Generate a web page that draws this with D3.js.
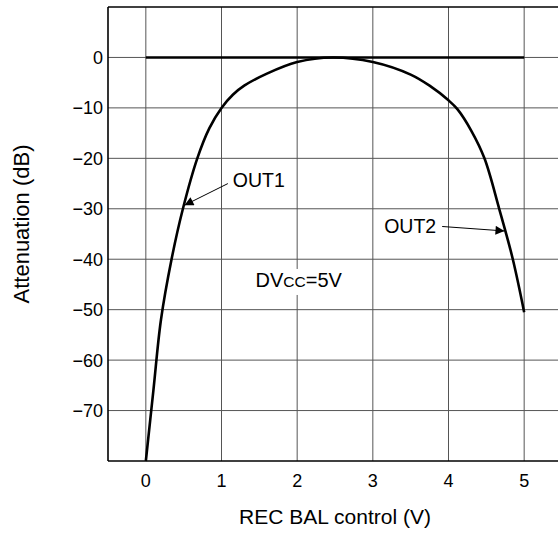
<!DOCTYPE html>
<html>
<head>
<meta charset="utf-8">
<script src="https://cdn.jsdelivr.net/npm/d3@7"></script>
<style>
  body { margin: 0; background: #fff; }
  text { font-family: "Liberation Sans", Arial, sans-serif; fill: #000; }
</style>
</head>
<body>
<div id="chart"></div>
<script>
/* DATA */
const xTicks = [0, 1, 2, 3, 4, 5];
const yTicks = [0, -10, -20, -30, -40, -50, -60, -70];

// OUT1 / OUT2 response (V, dB)
const curveV = [0, 0.1, 0.2, 0.34, 0.49, 0.68, 0.84, 1.0, 1.15, 1.3, 1.6, 2.0, 2.47, 3.0, 3.5, 3.75, 4.0, 4.12, 4.3, 4.475, 4.67, 4.85, 5.0];
const curveDb = [-80, -66, -52, -40, -30, -20, -14.0, -10, -7.4, -5.6, -3.2, -0.9, 0, -0.9, -3.4, -5.6, -8.5, -10.3, -14.5, -20, -30, -40, -50.5];

// flat reference line at 0 dB
const flatV = [0, 5];
const flatDb = [0, 0];

// labels: [text, label x, label y, arrow tip x, arrow tip y] in data units
const arrowLabels = [
  ["OUT1", 1.15, -25.6, 0.51, -29.3],
  ["OUT2", 3.15, -34.9, 4.74, -34.4]
];

/* CONSTANTS */
const width = 558, height = 534;
const margin = { top: 7, left: 108, bottom: 73, right: -4 };

const svg = d3.select("#chart").append("svg")
  .attr("width", width)
  .attr("height", height);

const xScale = d3.scaleLinear()
  .domain([-0.5, 5.5])
  .range([margin.left, width - margin.right]);

const yScale = d3.scaleLinear()
  .domain([-80, 10])
  .range([height - margin.bottom, margin.top]);

// + GRID
svg.append("g")
  .selectAll("line")
  .data(xTicks)
  .join("line")
  .attr("x1", d => xScale(d)).attr("x2", d => xScale(d))
  .attr("y1", yScale(10)).attr("y2", yScale(-80))
  .attr("stroke", "#555").attr("stroke-width", 1);

svg.append("g")
  .selectAll("line")
  .data(yTicks)
  .join("line")
  .attr("x1", xScale(-0.5)).attr("x2", xScale(5.5))
  .attr("y1", d => yScale(d)).attr("y2", d => yScale(d))
  .attr("stroke", "#555").attr("stroke-width", 1);

// + FRAME
const frame = svg.append("g").attr("stroke", "#000").attr("stroke-width", 1.6);
frame.append("line")
  .attr("x1", xScale(-0.5)).attr("x2", xScale(5.5))
  .attr("y1", yScale(10)).attr("y2", yScale(10));
frame.append("line")
  .attr("x1", xScale(-0.5)).attr("x2", xScale(5.5))
  .attr("y1", yScale(-80)).attr("y2", yScale(-80));
frame.append("line")
  .attr("x1", xScale(-0.5)).attr("x2", xScale(-0.5))
  .attr("y1", yScale(10)).attr("y2", yScale(-80));

// + TICK LABELS
svg.append("g")
  .selectAll("text")
  .data(xTicks)
  .join("text")
  .attr("x", d => xScale(d))
  .attr("y", 487)
  .attr("text-anchor", "middle")
  .attr("font-size", 18)
  .text(d => d);

svg.append("g")
  .selectAll("text")
  .data(yTicks)
  .join("text")
  .attr("x", 103)
  .attr("y", d => yScale(d))
  .attr("dy", "0.36em")
  .attr("text-anchor", "end")
  .attr("font-size", 18)
  .text(d => d === 0 ? "0" : "\u2212" + Math.abs(d));

// + AXIS TITLES
svg.append("text")
  .attr("x", xScale(2.5))
  .attr("y", 524)
  .attr("text-anchor", "middle")
  .attr("font-size", 21)
  .text("REC BAL control (V)");

svg.append("text")
  .attr("transform", "translate(29,224) rotate(-90)")
  .attr("text-anchor", "middle")
  .attr("font-size", 22)
  .text("Attenuation (dB)");

// + LINES
const line = d3.line()
  .x(d => xScale(d[0]))
  .y(d => yScale(d[1]))
  .curve(d3.curveCatmullRom.alpha(0.5));

svg.append("path")
  .datum(d3.zip(curveV, curveDb))
  .attr("d", line)
  .attr("fill", "none")
  .attr("stroke", "#000")
  .attr("stroke-width", 2.6);

svg.append("path")
  .datum(d3.zip(flatV, flatDb))
  .attr("d", d3.line().x(d => xScale(d[0])).y(d => yScale(d[1])))
  .attr("fill", "none")
  .attr("stroke", "#000")
  .attr("stroke-width", 2.6);

// + ANNOTATIONS
svg.append("defs").append("marker")
  .attr("id", "head")
  .attr("viewBox", "0 0 10 10")
  .attr("refX", 10).attr("refY", 5)
  .attr("markerWidth", 17).attr("markerHeight", 9)
  .attr("markerUnits", "userSpaceOnUse")
  .attr("orient", "auto")
  .append("path")
  .attr("d", "M0,0L10,5L0,10Z")
  .attr("fill", "#000");

arrowLabels.forEach(([label, lx, ly, tx, ty], i) => {
  svg.append("text")
    .attr("x", xScale(lx))
    .attr("y", yScale(ly))
    .attr("font-size", 19.5)
    .text(label);
  const startX = i === 0 ? xScale(lx) - 5 : xScale(lx) + 58;
  const startY = i === 0 ? yScale(ly) - 3 : yScale(ly) - 7;
  svg.append("line")
    .attr("x1", startX).attr("y1", startY)
    .attr("x2", xScale(tx)).attr("y2", yScale(ty))
    .attr("stroke", "#000").attr("stroke-width", 1)
    .attr("marker-end", "url(#head)");
});

const condBox = svg.append("rect").attr("fill", "#fff");
const cond = svg.append("text")
  .attr("x", xScale(1.45))
  .attr("y", yScale(-45.5))
  .attr("font-size", 20);
cond.append("tspan").text("DV");
cond.append("tspan").attr("font-size", 15.5).text("CC");
cond.append("tspan").text("=5V");
const bb = cond.node().getBBox();
condBox.attr("x", bb.x - 2).attr("y", bb.y).attr("width", bb.width + 4).attr("height", bb.height + 4);
</script>
</body>
</html>
